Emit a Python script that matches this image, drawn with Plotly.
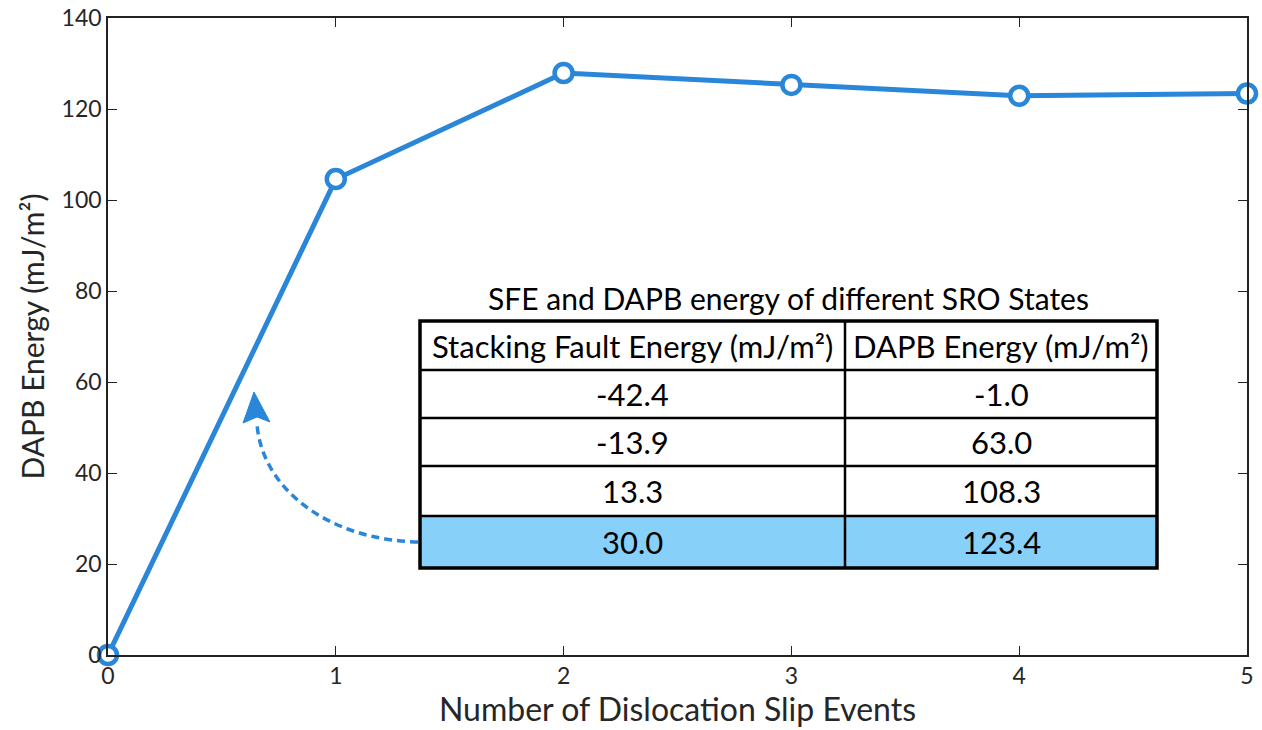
import plotly.graph_objects as go

# Series: DAPB energy after successive dislocation slip events
slip_events = [0, 1, 2, 3, 4, 5]
dapb_energy = [0.0, 104.6, 127.9, 125.3, 122.9, 123.4]

# Inset table data
table_title = "SFE and DAPB energy of different SRO States"
table_headers = ["Stacking Fault Energy (mJ/m²)", "DAPB Energy (mJ/m²)"]
sfe_values = ["-42.4", "-13.9", "13.3", "30.0"]
dapb_values = ["-1.0", "63.0", "108.3", "123.4"]
highlight_row = 3

W, H = 1262, 730
ML, MR, MT, MB = 108, 15, 18, 75
PW, PH = W - ML - MR, H - MT - MB


def px(xp):
    return (xp - ML) / PW


def py(yp):
    return (H - MB - yp) / PH


FONT = "Lato"
BLUE = "#2A86D8"
TXT = "#262626"

fig = go.Figure()
fig.add_trace(go.Scatter(
    x=slip_events, y=dapb_energy, mode="lines+markers",
    line=dict(color=BLUE, width=5),
    marker=dict(symbol="circle", size=18, color="white",
                line=dict(color=BLUE, width=4.5)),
    cliponaxis=False, showlegend=False,
))

shapes = []
annotations = []

# Table geometry (pixels)
tx0, tx1, tcol = 420, 1157, 845
row_edges = [321, 370, 418, 466, 516, 568]

# highlighted row fill
shapes.append(dict(type="rect", xref="paper", yref="paper",
                   x0=px(tx0), x1=px(tx1),
                   y0=py(row_edges[highlight_row + 2]), y1=py(row_edges[highlight_row + 1]),
                   fillcolor="#87D0FA", line=dict(width=0), layer="above"))
# inner horizontal rules
for e in row_edges[1:-1]:
    shapes.append(dict(type="line", xref="paper", yref="paper",
                       x0=px(tx0), x1=px(tx1), y0=py(e), y1=py(e),
                       line=dict(color="black", width=2.5), layer="above"))
# column divider
shapes.append(dict(type="line", xref="paper", yref="paper",
                   x0=px(tcol), x1=px(tcol), y0=py(row_edges[0]), y1=py(row_edges[-1]),
                   line=dict(color="black", width=2.5), layer="above"))
# outer border
shapes.append(dict(type="rect", xref="paper", yref="paper",
                   x0=px(tx0), x1=px(tx1), y0=py(row_edges[-1]), y1=py(row_edges[0]),
                   line=dict(color="black", width=3.5), layer="above"))


def label(xc, yc, text, size):
    annotations.append(dict(xref="paper", yref="paper", x=px(xc), y=py(yc),
                            xanchor="center", yanchor="middle",
                            text=text, showarrow=False,
                            font=dict(family=FONT, size=size, color="black")))


label((tx0 + tx1) / 2, 298, table_title, 30)
col_centers = [(tx0 + tcol) / 2, (tcol + tx1) / 2]
for c, h in zip(col_centers, table_headers):
    label(c, (row_edges[0] + row_edges[1]) / 2, h, 31)
for i, (a, b) in enumerate(zip(sfe_values, dapb_values)):
    yc = (row_edges[i + 1] + row_edges[i + 2]) / 2
    for c, v in zip(col_centers, (a, b)):
        label(c, yc, v, 31)

# dashed curved pointer from the highlighted row toward the curve
path = "M {},{} C {},{} {},{} {},{}".format(
    px(418), py(542), px(330), py(540), px(262), py(490), px(257), py(424))
shapes.append(dict(type="path", xref="paper", yref="paper", path=path,
                   line=dict(color=BLUE, width=3.5, dash="8px,5px")))
head = "M {},{} L {},{} L {},{} L {},{} Z".format(
    px(254), py(392), px(243), py(423), px(257), py(417), px(270), py(422))
shapes.append(dict(type="path", xref="paper", yref="paper", path=head,
                   fillcolor=BLUE, line=dict(color=BLUE, width=1)))

axis_common = dict(showline=True, mirror="allticks", linecolor="#222222", linewidth=1.5,
                   ticks="inside", ticklen=9, tickwidth=1.3, tickcolor="#222222",
                   showgrid=False, zeroline=False, automargin=False,
                   tickfont=dict(family=FONT, size=23, color=TXT))

fig.update_layout(
    width=W, height=H,
    margin=dict(l=ML, r=MR, t=MT, b=MB),
    paper_bgcolor="white", plot_bgcolor="white",
    xaxis=dict(range=[0, 5], dtick=1, **axis_common,
               title=dict(text="Number of Dislocation Slip Events", standoff=3,
                          font=dict(family=FONT, size=32, color=TXT))),
    yaxis=dict(range=[0, 140], dtick=20, **axis_common,
               title=dict(text="DAPB Energy (mJ/m²)", standoff=8,
                          font=dict(family=FONT, size=30, color=TXT))),
    shapes=shapes, annotations=annotations,
)

fig.write_html("out.html")
